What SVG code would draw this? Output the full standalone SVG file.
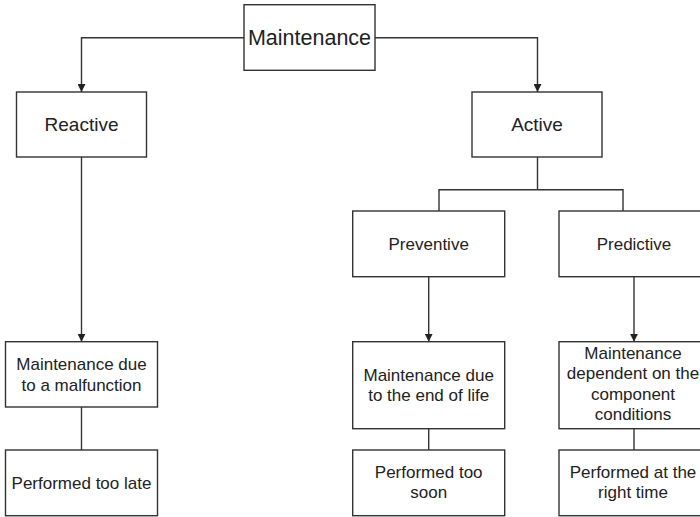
<svg xmlns="http://www.w3.org/2000/svg" width="700" height="517" viewBox="0 0 700 517">
<defs>
<marker id="arr" viewBox="0 0 10 10" refX="10" refY="5" markerWidth="8" markerHeight="8" markerUnits="userSpaceOnUse" orient="auto">
<path d="M0,0 L10,5 L0,10 Z" fill="#222"/>
</marker>
</defs>
<style>
.box{fill:#fff;stroke:#333;stroke-width:1.4}
.t{font-family:"Liberation Sans",Arial,sans-serif;font-size:17px;fill:#222;text-anchor:middle}
.c{fill:none;stroke:#333;stroke-width:1.4}
</style>
<rect width="700" height="517" fill="#fff"/>
<g id="connectors">
<path class="c" d="M244,37.7 H81.5 V92" marker-end="url(#arr)"/>
<path class="c" d="M375,37.7 H537.5 V92" marker-end="url(#arr)"/>
<path class="c" d="M81.5,157 V341.7" marker-end="url(#arr)"/>
<path class="c" d="M81.5,407 V450"/>
<path class="c" d="M537.5,157 V189.7 M439,211 V189.7 H623 V211"/>
<path class="c" d="M428.7,276.7 V341.7" marker-end="url(#arr)"/>
<path class="c" d="M634,276.7 V341.7" marker-end="url(#arr)"/>
<path class="c" d="M428.7,428.7 V450"/>
<path class="c" d="M634,428.7 V450"/>
</g>
<g id="maintenance">
<rect class="box" x="244" y="4.7" width="131" height="65.6"/>
<text class="t" x="309.5" y="44.5" style="font-size:21.5px">Maintenance</text>
</g>
<g id="reactive">
<rect class="box" x="16.5" y="92" width="130" height="65"/>
<text class="t" x="81.5" y="131" style="font-size:19px">Reactive</text>
</g>
<g id="active">
<rect class="box" x="472" y="92" width="130" height="65"/>
<text class="t" x="537" y="131" style="font-size:19px">Active</text>
</g>
<g id="preventive">
<rect class="box" x="352.7" y="211" width="152" height="65.7"/>
<text class="t" x="428.7" y="250">Preventive</text>
</g>
<g id="predictive">
<rect class="box" x="559" y="211" width="150" height="65.7"/>
<text class="t" x="634" y="250">Predictive</text>
</g>
<g id="malfunction">
<rect class="box" x="5.5" y="341.7" width="152" height="65.3"/>
<text class="t" x="81.5" y="370.2">Maintenance due</text>
<text class="t" x="81.5" y="390.7">to a malfunction</text>
</g>
<g id="too-late">
<rect class="box" x="5.5" y="450" width="152" height="65.7"/>
<text class="t" x="81.5" y="489">Performed too late</text>
</g>
<g id="end-of-life">
<rect class="box" x="352.7" y="341.7" width="152" height="87"/>
<text class="t" x="428.7" y="380.5">Maintenance due</text>
<text class="t" x="428.7" y="401">to the end of life</text>
</g>
<g id="too-soon">
<rect class="box" x="352.7" y="450" width="152" height="65.7"/>
<text class="t" x="428.7" y="477.5">Performed too</text>
<text class="t" x="428.7" y="498">soon</text>
</g>
<g id="conditions">
<rect class="box" x="559" y="341.7" width="150" height="87"/>
<text class="t" x="633" y="358.5">Maintenance</text>
<text class="t" x="633" y="379">dependent on the</text>
<text class="t" x="633" y="399.5">component</text>
<text class="t" x="633" y="420">conditions</text>
</g>
<g id="right-time">
<rect class="box" x="559" y="450" width="150" height="65.7"/>
<text class="t" x="633" y="477.5">Performed at the</text>
<text class="t" x="633" y="498">right time</text>
</g>
</svg>
